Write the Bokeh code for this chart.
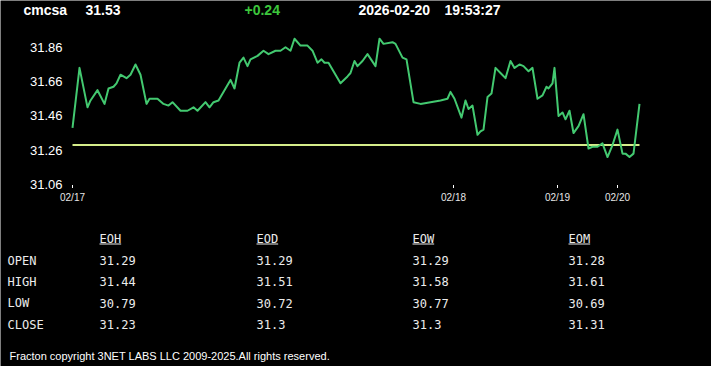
from bokeh.plotting import figure
from bokeh.models import Range1d
from bokeh.core.properties import value
from bokeh.embed import file_html
from bokeh.resources import INLINE

# ---------------- data ----------------
symbol = "cmcsa"
last_price = "31.53"
change = "+0.24"
quote_date = "2026-02-20"
quote_time = "19:53:27"
prev_close = 31.29

# time index of each sample and price
t = [0, 7, 15, 18, 25, 32, 36, 41, 44, 48,
     54, 58, 63, 68, 74, 77, 85, 91, 96, 100,
     108, 115, 121, 125, 133, 137, 141, 146, 152, 158,
     162, 167, 171, 175, 178, 185, 191, 196, 203, 208,
     213, 218, 222, 228, 235, 240, 245, 249, 252, 256,
     268, 275, 278, 282, 285, 290, 295, 303, 307, 311,
     320, 323, 330, 334, 341, 348, 358, 368, 375, 378,
     382, 389, 393, 396, 400, 405, 408, 411, 415, 419,
     423, 428, 433, 438, 442, 447, 451, 456, 460, 465,
     470, 474, 476, 480, 482, 486, 490, 493, 497, 501,
     506, 511, 516, 520, 525, 530, 535, 540, 545, 550,
     553, 557, 561, 567]
prices = [31.39, 31.74, 31.51, 31.55, 31.61, 31.53, 31.62, 31.63, 31.65, 31.70,
          31.68, 31.70, 31.76, 31.70, 31.53, 31.56, 31.56, 31.53, 31.52, 31.54,
          31.49, 31.49, 31.51, 31.49, 31.54, 31.51, 31.54, 31.55, 31.61, 31.67,
          31.62, 31.77, 31.80, 31.75, 31.79, 31.81, 31.84, 31.82, 31.84, 31.84,
          31.86, 31.84, 31.91, 31.87, 31.87, 31.84, 31.77, 31.79, 31.77, 31.77,
          31.65, 31.69, 31.71, 31.78, 31.75, 31.78, 31.82, 31.75, 31.91, 31.88,
          31.89, 31.88, 31.80, 31.79, 31.54, 31.53, 31.54, 31.55, 31.56, 31.60,
          31.56, 31.45, 31.55, 31.50, 31.52, 31.35, 31.37, 31.38, 31.57, 31.59,
          31.74, 31.71, 31.68, 31.78, 31.74, 31.76, 31.75, 31.72, 31.74, 31.56,
          31.58, 31.63, 31.62, 31.65, 31.74, 31.46, 31.48, 31.44, 31.49, 31.36,
          31.40, 31.47, 31.27, 31.28, 31.28, 31.30, 31.22, 31.29, 31.38, 31.24,
          31.24, 31.22, 31.24, 31.53]

y_ticks = [31.06, 31.26, 31.46, 31.66, 31.86]
x_tick_pos = [0, 381, 485, 545]
x_tick_labels = ["02/17", "02/18", "02/19", "02/20"]

table_cols = ["EOH", "EOD", "EOW", "EOM"]
table_rows = ["OPEN", "HIGH", "LOW", "CLOSE"]
eoh = ["31.29", "31.44", "30.79", "31.23"]
eod = ["31.29", "31.51", "30.72", "31.3"]
eow = ["31.29", "31.58", "30.77", "31.3"]
eom = ["31.28", "31.61", "30.69", "31.31"]
copyright_text = "Fracton copyright 3NET LABS LLC 2009-2025.All rights reserved."

# ---------------- styles / layout ----------------
BG = "black"
WHITE = "#ffffff"
LINE_GREEN = "#43c970"
BASE_YELLOW = "#d5ec8a"
UP_GREEN = "#3cc63c"
TBL = "#ececec"
W, H = 711, 366
X0_PAGE = 72          # page x of the first sample
PX_PER_T = 1.0
Y0_PAGE = 184         # page y of the lowest y tick
PX_PER_UNIT = 171.5   # page pixels per price unit

x_lo = -X0_PAGE / PX_PER_T
x_hi = (W - X0_PAGE) / PX_PER_T
y_lo = y_ticks[0] - (H - Y0_PAGE) / PX_PER_UNIT
y_hi = y_ticks[0] + Y0_PAGE / PX_PER_UNIT

p = figure(width=W, height=H, x_range=Range1d(x_lo, x_hi), y_range=Range1d(y_lo, y_hi),
           min_border=0, x_axis_type=None, y_axis_type=None,
           output_backend="svg", toolbar_location=None,
           background_fill_color=BG, border_fill_color=BG, outline_line_color=None)
p.grid.visible = False
p.extra_x_ranges = {"px": Range1d(0, W)}
p.extra_y_ranges = {"px": Range1d(H, 0)}

# price chart
p.line(x=[t[0], t[-1]], y=[prev_close, prev_close], line_color=BASE_YELLOW, line_width=2)
p.line(x=t, y=prices, line_color=LINE_GREEN, line_width=2, line_join="round")

# y tick labels (placed with the price scale)
p.text(x=[62] * len(y_ticks), y=y_ticks, text=[f"{v:.2f}" for v in y_ticks],
       x_range_name="px", text_color=WHITE, text_font=value("Liberation Sans"),
       text_font_size="13px", text_align="right", text_baseline="middle")

# x ticks and labels (placed with the time scale)
p.segment(x0=x_tick_pos, x1=x_tick_pos, y0=[184.5] * 4, y1=[187.5] * 4, y_range_name="px",
          line_color=WHITE, line_width=1)
p.text(x=x_tick_pos, y=[196.5] * 4, text=x_tick_labels, y_range_name="px",
       text_color="#e6e6e6", text_font=value("Liberation Sans"), text_font_size="10px",
       text_align="center", text_baseline="middle")

# header
hdr_x = [23, 85, 244, 358, 444]
hdr_txt = [symbol, last_price, change, quote_date, quote_time]
hdr_col = [WHITE, WHITE, UP_GREEN, WHITE, WHITE]
p.text(x=hdr_x, y=[9.5] * 5, text=hdr_txt, text_color=hdr_col,
       x_range_name="px", y_range_name="px",
       text_font=value("Liberation Sans"), text_font_style="bold",
       text_font_size="14px", text_baseline="middle", text_align="left")

# table
col_x = [99, 256, 412, 568]
row_y = [260, 281, 302.5, 324]
head_y = 238
mono = value("DejaVu Sans Mono")
cells_x, cells_y, cells_t = [], [], []
for r, ry in zip(table_rows, row_y):
    cells_x.append(7); cells_y.append(ry); cells_t.append(r)
for cx, name, vals in zip(col_x, table_cols, [eoh, eod, eow, eom]):
    cells_x.append(cx); cells_y.append(head_y); cells_t.append(name)
    for v, ry in zip(vals, row_y):
        cells_x.append(cx); cells_y.append(ry); cells_t.append(v)
p.text(x=cells_x, y=cells_y, text=cells_t, x_range_name="px", y_range_name="px",
       text_color=TBL, text_font=mono, text_font_size="12px",
       text_baseline="middle", text_align="left")
cw = 7.22
ul_y = head_y + 5.5
p.segment(x0=col_x, y0=[ul_y] * 4, x1=[x + cw * len(s) for x, s in zip(col_x, table_cols)],
          y1=[ul_y] * 4, x_range_name="px", y_range_name="px", line_color=TBL, line_width=1)

p.text(x=[9], y=[355], text=[copyright_text], x_range_name="px", y_range_name="px",
       text_color=WHITE, text_font=value("Liberation Sans"), text_font_size="11px",
       text_baseline="middle", text_align="left")

open("out.html", "w").write(file_html(p, INLINE))
